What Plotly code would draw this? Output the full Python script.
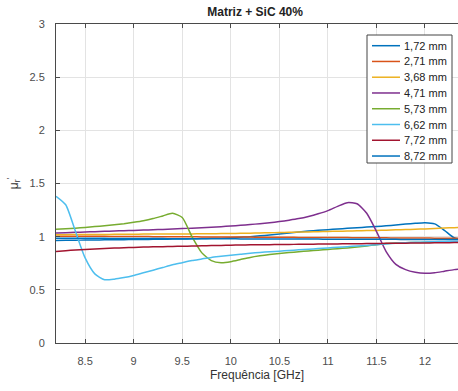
import plotly.graph_objects as go

# Frequency grid [GHz]
freq = [8.2, 8.3, 8.4, 8.5, 8.6, 8.7, 8.8, 8.9, 9.0, 9.1, 9.2, 9.3, 9.4, 9.5,
        9.6, 9.7, 9.8, 9.9, 10.0, 10.1, 10.2, 10.3, 10.4, 10.5, 10.6, 10.7,
        10.8, 10.9, 11.0, 11.1, 11.2, 11.3, 11.4, 11.5, 11.6, 11.7, 11.8,
        11.9, 12.0, 12.1, 12.2, 12.3, 12.4]

# Real part of relative permeability for each sample thickness
mu_172 = [0.965, 0.966, 0.967, 0.968, 0.969, 0.970, 0.971, 0.972, 0.973, 0.974,
          0.975, 0.976, 0.977, 0.978, 0.980, 0.982, 0.984, 0.986, 0.990, 0.995,
          1.000, 1.008, 1.016, 1.025, 1.035, 1.045, 1.053, 1.060, 1.066, 1.072,
          1.078, 1.084, 1.090, 1.095, 1.102, 1.110, 1.118, 1.126, 1.132, 1.120,
          1.060, 0.990, 0.970]
mu_271 = [1.005, 1.005, 1.004, 1.004, 1.003, 1.003, 1.002, 1.002, 1.001, 1.001,
          1.000, 1.000, 1.000, 0.999, 0.999, 0.998, 0.998, 0.997, 0.997, 0.996,
          0.996, 0.995, 0.995, 0.994, 0.994, 0.993, 0.993, 0.992, 0.992, 0.991,
          0.991, 0.990, 0.990, 0.989, 0.989, 0.988, 0.988, 0.987, 0.987, 0.986,
          0.986, 0.985, 0.985]
mu_368 = [1.018, 1.019, 1.020, 1.020, 1.021, 1.021, 1.022, 1.022, 1.023, 1.024,
          1.024, 1.025, 1.025, 1.026, 1.026, 1.027, 1.028, 1.029, 1.030, 1.031,
          1.033, 1.035, 1.037, 1.039, 1.041, 1.043, 1.045, 1.047, 1.049, 1.051,
          1.053, 1.055, 1.057, 1.059, 1.061, 1.064, 1.067, 1.070, 1.073, 1.077,
          1.081, 1.085, 1.089]
mu_471 = [1.035, 1.038, 1.041, 1.044, 1.047, 1.050, 1.053, 1.056, 1.059, 1.062,
          1.065, 1.068, 1.072, 1.076, 1.080, 1.084, 1.089, 1.094, 1.100, 1.107,
          1.114, 1.122, 1.131, 1.142, 1.155, 1.170, 1.190, 1.215, 1.245, 1.285,
          1.320, 1.310, 1.220, 1.050, 0.860, 0.740, 0.690, 0.665, 0.655, 0.660,
          0.675, 0.690, 0.700]
mu_573 = [1.070, 1.075, 1.080, 1.087, 1.095, 1.103, 1.112, 1.122, 1.135, 1.150,
          1.170, 1.195, 1.220, 1.180, 1.000, 0.850, 0.775, 0.755, 0.765, 0.785,
          0.805, 0.820, 0.832, 0.842, 0.850, 0.858, 0.866, 0.873, 0.880, 0.887,
          0.894, 0.902, 0.912, 0.925, 0.935, 0.940, 0.943, 0.945, 0.947, 0.948,
          0.949, 0.950, 0.950]
mu_662 = [1.380, 1.300, 1.050, 0.800, 0.650, 0.595, 0.600, 0.615, 0.635, 0.660,
          0.685, 0.710, 0.735, 0.755, 0.775, 0.790, 0.805, 0.815, 0.825, 0.835,
          0.845, 0.852, 0.858, 0.864, 0.870, 0.876, 0.882, 0.888, 0.894, 0.900,
          0.906, 0.912, 0.918, 0.925, 0.932, 0.938, 0.943, 0.947, 0.950, 0.953,
          0.955, 0.957, 0.958]
mu_772 = [0.860, 0.868, 0.875, 0.880, 0.885, 0.889, 0.893, 0.896, 0.899, 0.902,
          0.904, 0.906, 0.908, 0.910, 0.912, 0.914, 0.916, 0.918, 0.920, 0.922,
          0.923, 0.924, 0.925, 0.926, 0.927, 0.928, 0.929, 0.930, 0.931, 0.932,
          0.933, 0.934, 0.935, 0.936, 0.937, 0.938, 0.939, 0.940, 0.941, 0.942,
          0.943, 0.944, 0.945]
mu_872 = [0.985, 0.985, 0.985, 0.984, 0.984, 0.984, 0.983, 0.983, 0.983, 0.982,
          0.982, 0.982, 0.981, 0.981, 0.981, 0.980, 0.980, 0.980, 0.980, 0.979,
          0.979, 0.979, 0.978, 0.978, 0.978, 0.977, 0.977, 0.977, 0.976, 0.976,
          0.976, 0.976, 0.975, 0.975, 0.975, 0.975, 0.974, 0.974, 0.974, 0.974,
          0.973, 0.973, 0.973]

labels = ["1,72 mm", "2,71 mm", "3,68 mm", "4,71 mm",
          "5,73 mm", "6,62 mm", "7,72 mm", "8,72 mm"]
series = [mu_172, mu_271, mu_368, mu_471, mu_573, mu_662, mu_772, mu_872]
colors = ["#0072BD", "#D95319", "#EDB120", "#7E2F8E",
          "#77AC30", "#4DBEEE", "#A2142F", "#0072BD"]

FONT = "Arial, 'Liberation Sans', Helvetica, sans-serif"

W, H = 458, 391
ML, MR, MT, MB = 56, 0, 24, 48
PW, PH = W - ML - MR, H - MT - MB


def px_x(p):
    return (p - ML) / PW


def px_y(p):
    return (H - MB - p) / PH


fig = go.Figure()
for name, ys, c in zip(labels, series, colors):
    fig.add_trace(go.Scatter(x=freq, y=ys, name=name, mode="lines",
                             showlegend=False,
                             line=dict(color=c, width=1.5, shape="spline",
                                       smoothing=0.6)))

# Compact legend box (MATLAB-like spacing)
shapes = [dict(type="rect", xref="paper", yref="paper",
               x0=px_x(367), x1=px_x(452), y0=px_y(163), y1=px_y(35),
               line=dict(color="#444", width=1), fillcolor="white", layer="above")]
annotations = []
row0, step = 45.7, 15.76
for i, (name, c) in enumerate(zip(labels, colors)):
    yy = px_y(row0 + i * step)
    shapes.append(dict(type="line", xref="paper", yref="paper",
                       x0=px_x(372), x1=px_x(400), y0=yy, y1=yy,
                       line=dict(color=c, width=1.5), layer="above"))
    annotations.append(dict(xref="paper", yref="paper", x=px_x(402), y=yy,
                            xanchor="left", yanchor="middle", showarrow=False,
                            text=name,
                            font=dict(family=FONT, size=11, color="#222")))

axis_common = dict(showgrid=True, gridcolor="#e3e3e3", gridwidth=1,
                   showline=True, linecolor="#4a4a4a", linewidth=1,
                   ticks="inside", ticklen=4, tickcolor="#4a4a4a",
                   zeroline=False,
                   tickfont=dict(family=FONT, size=11, color="#4d4d4d"))

fig.update_layout(
    width=W, height=H,
    margin=dict(l=ML, r=MR, t=MT, b=MB),
    paper_bgcolor="white", plot_bgcolor="white",
    title=dict(text="<b>Matriz + SiC 40%</b>", x=0.557, xanchor="center",
               y=0.97, yanchor="middle",
               font=dict(family=FONT, size=12, color="#222")),
    xaxis=dict(range=[8.2, 12.34], tickvals=[8.5, 9, 9.5, 10, 10.5, 11, 11.5, 12],
               ticktext=["8.5", "9", "9.5", "10", "10.5", "11", "11.5", "12"],
               mirror="ticks", ticklabelstandoff=8,
               title=dict(text="Frequência [GHz]", standoff=4,
                          font=dict(family=FONT, size=12, color="#333")),
               **axis_common),
    yaxis=dict(range=[0, 3], tickvals=[0, 0.5, 1, 1.5, 2, 2.5, 3],
               ticktext=["0", "0.5", "1", "1.5", "2", "2.5", "3"],
               ticklabelstandoff=8,
               title=dict(text="μ<sub>r</sub><sup>'</sup>", standoff=8,
                          font=dict(family=FONT, size=12, color="#333")),
               **axis_common),
    shapes=shapes,
    annotations=annotations,
    showlegend=False,
)

fig.write_html("out.html")
